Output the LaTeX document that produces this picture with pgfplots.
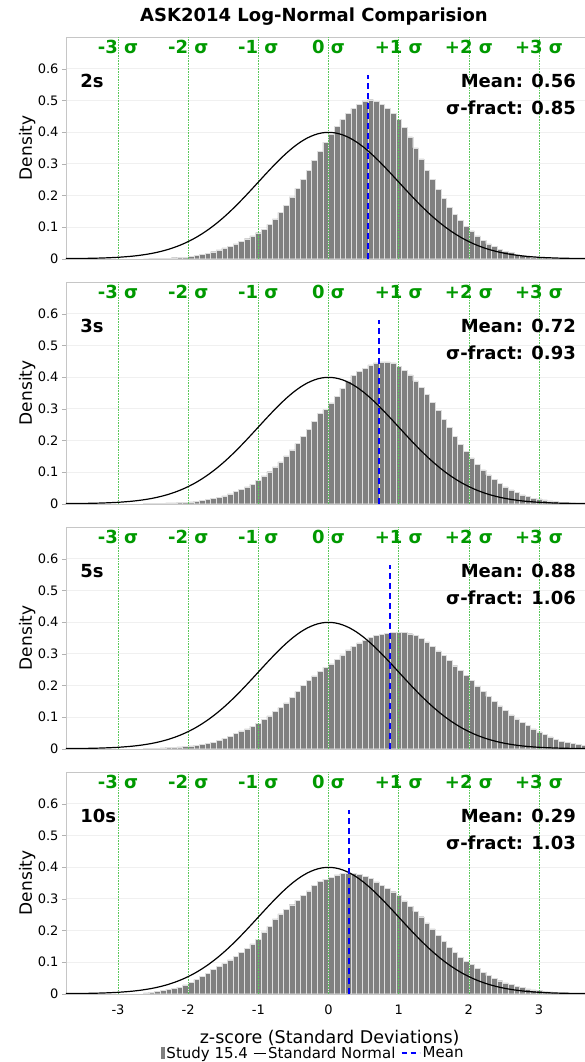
\documentclass[border=0pt]{standalone}
\usepackage{fontspec}
\setmainfont{DejaVu Sans}
\usepackage{pgfplots}
\usepackage{pgfplotstable}
\pgfplotsset{compat=1.18}

\definecolor{barcol}{RGB}{128,128,128}
\definecolor{sigtext}{RGB}{0,153,0}
\definecolor{siglinec}{RGB}{90,200,90}

\pgfplotstableread{
z p1 p2 p3 p4
-2.60 0.000 0.001 0.001 0.003
-2.52 0.001 0.001 0.002 0.005
-2.44 0.001 0.002 0.002 0.007
-2.36 0.002 0.002 0.003 0.010
-2.28 0.002 0.003 0.004 0.013
-2.20 0.003 0.003 0.005 0.017
-2.12 0.004 0.004 0.006 0.021
-2.04 0.005 0.005 0.007 0.028
-1.96 0.007 0.006 0.009 0.036
-1.88 0.010 0.008 0.011 0.045
-1.80 0.013 0.010 0.014 0.055
-1.72 0.017 0.013 0.017 0.064
-1.64 0.022 0.017 0.021 0.076
-1.56 0.028 0.021 0.026 0.086
-1.48 0.034 0.025 0.033 0.096
-1.40 0.040 0.031 0.040 0.107
-1.32 0.047 0.038 0.048 0.119
-1.24 0.055 0.045 0.056 0.131
-1.16 0.063 0.053 0.063 0.144
-1.08 0.072 0.062 0.071 0.157
-1.00 0.082 0.074 0.081 0.172
-0.92 0.093 0.088 0.093 0.195
-0.84 0.108 0.101 0.104 0.213
-0.76 0.126 0.116 0.117 0.236
-0.68 0.146 0.132 0.130 0.252
-0.60 0.168 0.151 0.145 0.266
-0.52 0.195 0.170 0.162 0.281
-0.44 0.222 0.190 0.180 0.295
-0.36 0.250 0.212 0.200 0.310
-0.28 0.280 0.235 0.215 0.325
-0.20 0.310 0.260 0.230 0.342
-0.12 0.340 0.285 0.244 0.355
-0.04 0.368 0.297 0.257 0.362
0.04 0.393 0.318 0.268 0.368
0.12 0.418 0.340 0.282 0.375
0.20 0.440 0.365 0.296 0.379
0.28 0.460 0.388 0.312 0.381
0.36 0.475 0.405 0.324 0.380
0.44 0.488 0.417 0.334 0.377
0.52 0.498 0.428 0.343 0.371
0.60 0.502 0.438 0.351 0.364
0.68 0.497 0.445 0.357 0.353
0.76 0.487 0.448 0.362 0.342
0.84 0.475 0.448 0.365 0.332
0.92 0.460 0.445 0.367 0.322
1.00 0.440 0.434 0.368 0.310
1.08 0.415 0.421 0.367 0.293
1.16 0.385 0.407 0.363 0.276
1.24 0.350 0.388 0.357 0.260
1.32 0.315 0.368 0.349 0.243
1.40 0.280 0.345 0.337 0.224
1.48 0.250 0.320 0.324 0.205
1.56 0.218 0.294 0.309 0.185
1.64 0.190 0.267 0.294 0.165
1.72 0.163 0.240 0.278 0.146
1.80 0.140 0.213 0.262 0.130
1.88 0.120 0.188 0.247 0.115
1.96 0.103 0.165 0.231 0.102
2.04 0.088 0.145 0.215 0.093
2.12 0.072 0.124 0.196 0.079
2.20 0.058 0.107 0.180 0.067
2.28 0.047 0.091 0.165 0.057
2.36 0.038 0.078 0.150 0.049
2.44 0.030 0.065 0.135 0.041
2.52 0.024 0.053 0.121 0.034
2.60 0.019 0.044 0.107 0.029
2.68 0.014 0.035 0.094 0.023
2.76 0.011 0.028 0.083 0.019
2.84 0.008 0.023 0.074 0.015
2.92 0.006 0.018 0.063 0.012
3.00 0.005 0.015 0.053 0.010
3.08 0.004 0.012 0.045 0.008
3.16 0.003 0.009 0.037 0.006
3.24 0.002 0.007 0.030 0.005
3.32 0.002 0.005 0.024 0.004
3.40 0.001 0.004 0.019 0.003
3.48 0.001 0.003 0.016 0.002
3.56 0.001 0.002 0.013 0.002
3.64 0.001 0.002 0.011 0.001
}\hist

\pgfplotstableread{
z phi
-3.8 0.0003
-3.7 0.0004
-3.6 0.0006
-3.5 0.0009
-3.4 0.0012
-3.3 0.0017
-3.2 0.0024
-3.1 0.0033
-3.0 0.0044
-2.9 0.0060
-2.8 0.0079
-2.7 0.0104
-2.6 0.0136
-2.5 0.0175
-2.4 0.0224
-2.3 0.0283
-2.2 0.0355
-2.1 0.0440
-2.0 0.0540
-1.9 0.0656
-1.8 0.0790
-1.7 0.0940
-1.6 0.1109
-1.5 0.1295
-1.4 0.1497
-1.3 0.1714
-1.2 0.1942
-1.1 0.2179
-1.0 0.2420
-0.9 0.2661
-0.8 0.2897
-0.7 0.3123
-0.6 0.3332
-0.5 0.3521
-0.4 0.3683
-0.3 0.3814
-0.2 0.3910
-0.1 0.3970
0.0 0.3989
0.1 0.3970
0.2 0.3910
0.3 0.3814
0.4 0.3683
0.5 0.3521
0.6 0.3332
0.7 0.3123
0.8 0.2897
0.9 0.2661
1.0 0.2420
1.1 0.2179
1.2 0.1942
1.3 0.1714
1.4 0.1497
1.5 0.1295
1.6 0.1109
1.7 0.0940
1.8 0.0790
1.9 0.0656
2.0 0.0540
2.1 0.0440
2.2 0.0355
2.3 0.0283
2.4 0.0224
2.5 0.0175
2.6 0.0136
2.7 0.0104
2.8 0.0079
2.9 0.0060
3.0 0.0044
3.1 0.0033
3.2 0.0024
3.3 0.0017
3.4 0.0012
3.5 0.0009
3.6 0.0006
3.7 0.0004
3.8 0.0003
}\normal

\pgfplotsset{
  panel/.style={
    scale only axis, width=519pt, height=221.7pt,
    xmin=-3.741, xmax=3.655, ymin=0, ymax=0.7,
    xtick={-3,-2,-1,0,1,2,3}, xticklabels={},
    xtick style={draw=none},
    ytick={0,0.1,0.2,0.3,0.4,0.5,0.6},
    yticklabels={0,0.1,0.2,0.3,0.4,0.5,0.6},
    ymajorgrids, y grid style={gray!12},
    axis line style={gray!45},
    ytick style={gray!60}, tick align=outside, major tick length=4pt,
    tick label style={font=\fontsize{13}{15}\selectfont},
    ylabel={Density},
    ylabel style={font=\fontsize{17}{19}\selectfont, at={(axis description cs:-0.075,0.5)}, anchor=center},
  },
  barplot/.style={ybar, bar width=0.08, bar shift=0pt, fill=barcol, draw=white!75!gray, line width=0.4pt,
    legend image code/.code={\fill[barcol] (0pt,-5.5pt) rectangle (3.5pt,5.5pt);}},
  normplot/.style={black, line width=1.2pt, smooth,
    legend image code/.code={\draw[black, line width=1.2pt] (0pt,0pt) -- (12pt,0pt);}},
  meanplot/.style={blue, line width=2.2pt, dash pattern=on 6pt off 4pt,
    legend image code/.code={\draw[blue, line width=2.2pt, dash pattern=on 5pt off 4pt] (0pt,0pt) -- (18pt,0pt);}},
}
\tikzset{
  siglab/.style={font=\bfseries\fontsize{18}{20}\selectfont, text=sigtext, anchor=base, inner sep=0pt},
  panlab/.style={font=\bfseries\fontsize{18}{20}\selectfont, inner sep=0pt},
}

\newcommand{\decor}[3]{%
  \pgfplotsinvokeforeach{-3,-2,-1,0,1,2,3}{\addplot[siglinec, densely dotted, line width=0.6pt, forget plot] coordinates {(##1,0) (##1,0.7)};}
  \node[siglab] at (axis cs:-3,0.647) {-3 σ};
  \node[siglab] at (axis cs:-2,0.647) {-2 σ};
  \node[siglab] at (axis cs:-1,0.647) {-1 σ};
  \node[siglab] at (axis cs:0,0.647) {0 σ};
  \node[siglab] at (axis cs:1,0.647) {+1 σ};
  \node[siglab] at (axis cs:2,0.647) {+2 σ};
  \node[siglab] at (axis cs:3,0.647) {+3 σ};
  \node[panlab, anchor=base west] at (axis cs:-3.54,0.54) {#1};
  \node[panlab, anchor=base east] at (axis cs:3.527,0.542) {Mean: #2};
  \node[panlab, anchor=base east] at (axis cs:3.527,0.455) {σ-fract: #3};
}

\begin{document}
\begin{tikzpicture}
\path[use as bounding box] (0,0) rectangle (585pt,-1062pt);
\node[font=\bfseries\fontsize{18}{20}\selectfont] at (314pt,-17pt) {ASK2014 Log-Normal Comparision};

\begin{axis}[panel, at={(66pt,-37pt)}, anchor=north west]
\addplot[barplot] table[x=z,y=p1]{\hist};
\decor{2s}{0.56}{0.85}
\addplot[normplot] table[x=z,y=phi]{\normal};
\addplot[meanplot] coordinates {(0.56,0) (0.56,0.58)};
\end{axis}

\begin{axis}[panel, at={(66pt,-282pt)}, anchor=north west]
\addplot[barplot] table[x=z,y=p2]{\hist};
\decor{3s}{0.72}{0.93}
\addplot[normplot] table[x=z,y=phi]{\normal};
\addplot[meanplot] coordinates {(0.72,0) (0.72,0.58)};
\end{axis}

\begin{axis}[panel, at={(66pt,-527pt)}, anchor=north west]
\addplot[barplot] table[x=z,y=p3]{\hist};
\decor{5s}{0.88}{1.06}
\addplot[normplot] table[x=z,y=phi]{\normal};
\addplot[meanplot] coordinates {(0.88,0) (0.88,0.58)};
\end{axis}

\begin{axis}[panel, at={(66pt,-772pt)}, anchor=north west,
  xticklabels={-3,-2,-1,0,1,2,3},
  xticklabel style={yshift=-4pt},
  xlabel={z-score (Standard Deviations)},
  xlabel style={font=\fontsize{17.5}{19}\selectfont, at={(axis description cs:0.508,-0.199)}, anchor=center},
  legend style={at={(axis description cs:0.476,-0.268)}, anchor=center, draw=none, fill=none,
    legend columns=-1, font=\fontsize{15}{17}\selectfont,
    /tikz/every even column/.append style={column sep=3pt},
    legend cell align=left, inner sep=0pt},
]
\addplot[barplot] table[x=z,y=p4]{\hist};
\decor{10s}{0.29}{1.03}
\addplot[normplot] table[x=z,y=phi]{\normal};
\addplot[meanplot] coordinates {(0.29,0) (0.29,0.58)};
\legend{Study 15.4,Standard Normal,Mean}
\end{axis}
\end{tikzpicture}
\end{document}
